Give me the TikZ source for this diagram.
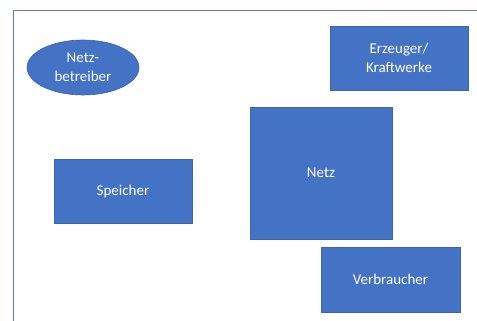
\documentclass[tikz,border=0pt]{standalone}
\usepackage{fontspec}
\setmainfont{Carlito}
\usetikzlibrary{shapes.geometric}
\definecolor{boxfill}{HTML}{4472C4}
\definecolor{boxline}{HTML}{3A65B0}
\definecolor{frameline}{HTML}{5E7CB8}
\begin{document}
\begin{tikzpicture}[x=1pt,y=-1pt,
  blk/.style={draw=boxline, line width=0.6pt, fill=boxfill, text=white, font=\fontsize{15}{19}\selectfont, align=center, inner sep=0pt},
  shp/.style={blk, rectangle},
  ell/.style={blk, ellipse}]
\useasboundingbox (0,0) rectangle (477,321);
\draw[frameline, line width=0.9pt] (13.5,321) -- (13.5,10.5) -- (477,10.5);
\node[ell, minimum width=112pt, minimum height=55pt] (nb) at (83,67.5) {Netz-\\betreiber};
\node[shp, minimum width=138pt, minimum height=64pt] (erz) at (399,58) {Erzeuger/\\Kraftwerke};
\node[shp, minimum width=142pt, minimum height=132pt] (netz) at (321,173) {Netz};
\node[shp, minimum width=138pt, minimum height=64pt] (sp) at (123,191.5) {Speicher};
\node[shp, minimum width=139pt, minimum height=65pt] (vb) at (390.5,279.5) {Verbraucher};
\end{tikzpicture}
\end{document}
